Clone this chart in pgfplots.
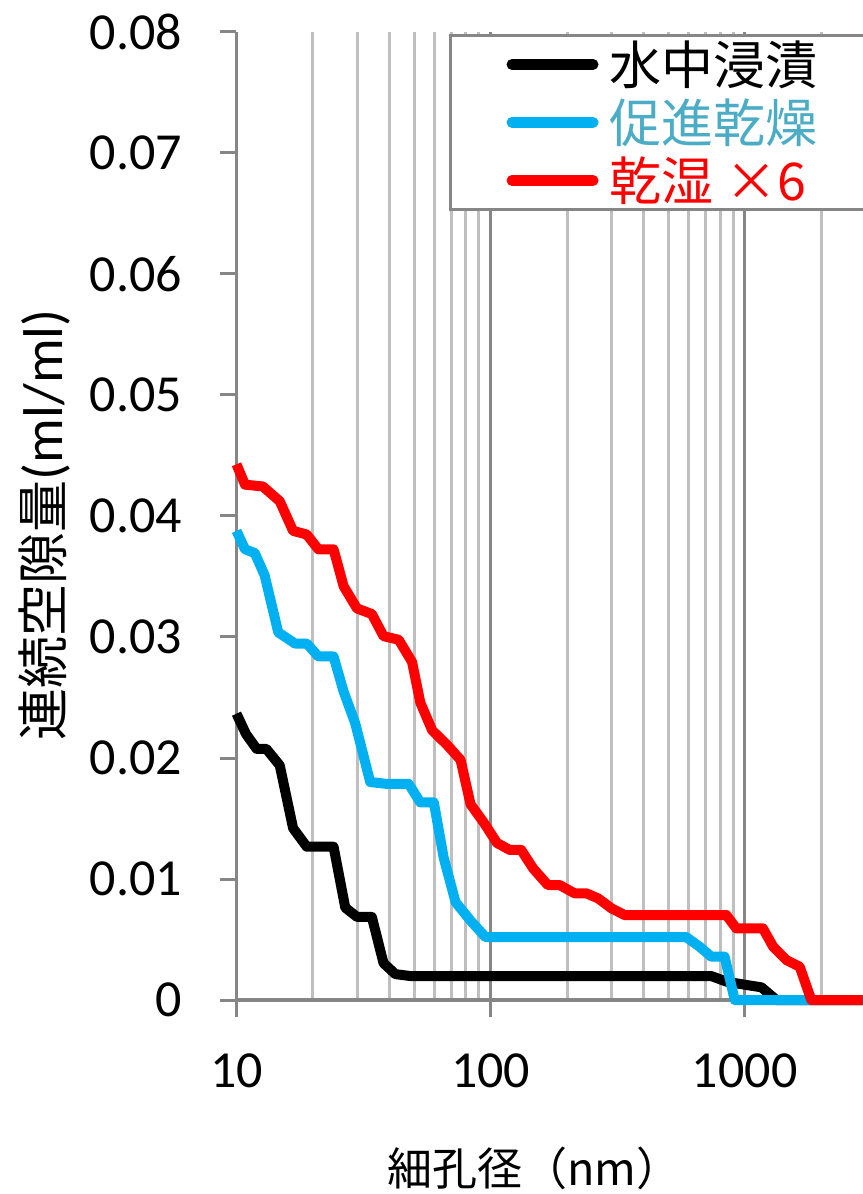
\documentclass[border=0pt]{standalone}
\usepackage{fontspec}
\setmainfont{Carlito}
\newfontfamily\cjk{Noto Sans CJK JP}
\usepackage{pgfplots}
\pgfplotsset{compat=1.18}
\definecolor{axgray}{HTML}{868686}
\definecolor{mgray}{HTML}{BFBFBF}
\definecolor{cblue}{HTML}{00B0F0}
\definecolor{tblue}{HTML}{4BACC6}
\definecolor{cred}{HTML}{FF0000}
\begin{document}
\begin{tikzpicture}
\begin{axis}[
  scale only axis, width=313pt, height=484pt,
  xmode=log, log basis x=10,
  xmin=10, xmax=2910, ymin=0, ymax=0.08,
  clip=false,
  scaled y ticks=false,
  axis lines=left,
  axis line style={-, axgray, line width=1.8pt},
  every outer x axis line/.append style={-},
  every outer y axis line/.append style={-},
  tick align=outside,
  major tick length=8.5pt, minor tick length=0pt,
  tick style={axgray, line width=1.5pt},
  xtick={10,100,1000}, xticklabels={10,100,1000},
  minor xtick={20,30,40,50,60,70,80,90,200,300,400,500,600,700,800,900,2000},
  ytick={0,0.01,0.02,0.03,0.04,0.05,0.06,0.07,0.08},
  yticklabels={0,0.01,0.02,0.03,0.04,0.05,0.06,0.07,0.08},
  xmajorgrids, xminorgrids,
  major grid style={axgray, line width=1.5pt},
  minor grid style={mgray, line width=1.5pt},
  ticklabel style={font=\fontsize{26}{31}\selectfont},
  yticklabel style={anchor=east, inner sep=0pt, xshift=-18.5pt},
  xticklabel style={anchor=north, inner sep=0pt, yshift=-18pt},
  xlabel={\cjk 細孔径（nm）},
  ylabel={{\cjk 連続空隙量}{\fontsize{28}{32}\selectfont(ml/ml)}},
  xlabel style={at={(axis description cs:0.476,0)}, anchor=center, yshift=-84pt, font=\fontsize{22.5}{27}\selectfont},
  ylabel style={at={(axis description cs:0,0.491)}, anchor=center, rotate=0, yshift=95.75pt, font=\fontsize{26}{30}\selectfont},
  legend cell align=left,
  legend style={at={(axis description cs:0.3395,0.998)}, anchor=north west,
    draw=axgray, line width=1.5pt, inner xsep=28pt, inner ysep=0pt,
    font=\fontsize{26}{30}\selectfont, column sep=5.5pt,
    nodes={inner sep=0pt, text height=24.4pt, text depth=4.6pt}},
  legend image code/.code={\draw[#1, line width=5.5pt, line cap=round] (0pt,0pt) -- (40.5pt,0pt);},
  every axis plot/.append style={line width=5pt, line join=round},
]
\addplot[black] coordinates {
(10,0.02366) (10.9,0.02198) (12.0,0.02076) (13.1,0.02076) (14.8,0.01939)
(16.7,0.0142) (18.9,0.01267) (24.1,0.01267) (26.8,0.00763) (29.8,0.00687)
(34.1,0.00687) (37.9,0.00305) (42.2,0.00214) (48.3,0.00198) (739,0.00198)
(847,0.00152) (1016,0.00124) (1164,0.00105) (1334,0) (2910,0)
};
\addlegendentry{{\cjk 水中浸漬}}
\addplot[cblue] coordinates {
(10,0.03877) (10.8,0.03725) (11.8,0.03694) (12.9,0.03511) (14.6,0.03038)
(17.0,0.02946) (18.9,0.02946) (21.0,0.02839) (24.1,0.02839) (26.4,0.02549)
(29.3,0.0229) (33.6,0.01801) (39.1,0.01786) (47.6,0.01786) (52.9,0.01633)
(59.8,0.01633) (65.4,0.01175) (72.8,0.00809) (83.4,0.00656) (95.5,0.0052)
(589,0.0052) (665,0.0044) (739,0.00358) (834,0.00358) (914,0) (2910,0)
};
\addlegendentry{\textcolor{tblue}{\cjk 促進乾燥}}
\addplot[cred] coordinates {
(10,0.04427) (10.8,0.04259) (12.7,0.04244) (14.8,0.04122) (16.7,0.03877)
(18.9,0.03847) (21.0,0.03725) (24.1,0.03725) (26.4,0.0342) (29.8,0.03236)
(34.1,0.0319) (37.9,0.03007) (43.5,0.02977) (49.1,0.02793) (52.9,0.02458)
(58.9,0.02229) (67.5,0.02107) (76.2,0.01984) (83.4,0.01618) (94.1,0.01465)
(106,0.01298) (119,0.0124) (132,0.0124) (147,0.01088) (168,0.0095)
(187,0.0095) (214,0.00882) (238,0.00882) (265,0.0084) (299,0.00758)
(337,0.00702) (847,0.00702) (927,0.00592) (1180,0.00592) (1294,0.00441)
(1460,0.0033) (1647,0.00275) (1830,0) (2910,0)
};
\addlegendentry{\textcolor{cred}{\cjk 乾湿 ×6}}
\end{axis}
\pgfresetboundingbox
\useasboundingbox (-118.25pt,-97pt) rectangle (313pt,500pt);
\end{tikzpicture}
\end{document}
